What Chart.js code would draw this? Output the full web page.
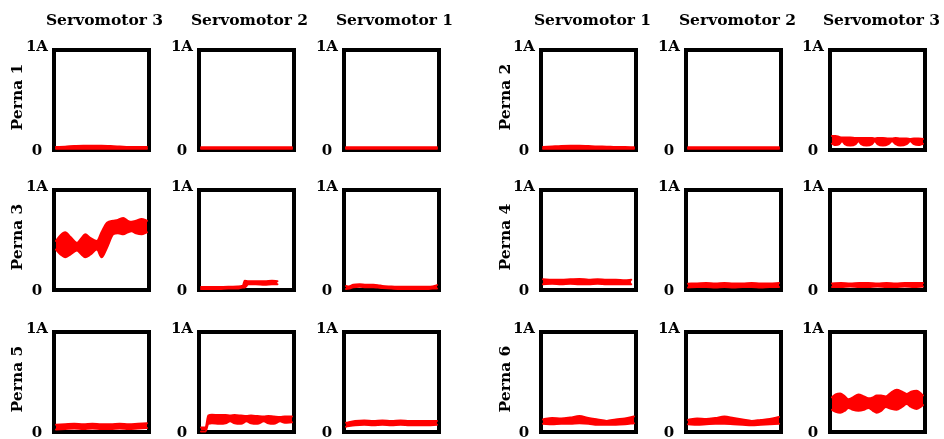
<!DOCTYPE html>
<html>
<head>
<meta charset="utf-8">
<script src="https://cdn.jsdelivr.net/npm/chart.js"></script>
<style>
  html, body { margin: 0; padding: 0; background: #fff; }
  #stage { position: relative; width: 944px; height: 439px; overflow: hidden; background: #fff; }
  #stage canvas { position: absolute; }
  .lbl {
    position: absolute; white-space: nowrap; line-height: 15px;
    font: bold 15.5px "DejaVu Serif", serif; color: #000;
  }
  .col { transform: translate(-50%, -50%); }
  .leg { transform: translate(-50%, -50%) rotate(-90deg); }
</style>
</head>
<body>
<div id="stage"></div>
<script>
// ---- labels ----
const motorsLeft  = ['Servomotor 3', 'Servomotor 2', 'Servomotor 1'];
const motorsRight = ['Servomotor 1', 'Servomotor 2', 'Servomotor 3'];
const legsLeft  = ['Perna 1', 'Perna 3', 'Perna 5'];
const legsRight = ['Perna 2', 'Perna 4', 'Perna 6'];
const yTickValues = [0, 1];
const yTickLabels = ['0', '1A'];

// ---- current envelopes: time (% of window), upper / lower bound (A) ----
const grid11 = [0, 10, 20, 30, 40, 50, 60, 70, 80, 90, 100];

// Perna 1
const p1s3_hi = [0.01, 0.014, 0.02, 0.024, 0.024, 0.024, 0.02, 0.016, 0.01, 0.01, 0.01];
const p1s3_lo = [-0.008, -0.008, -0.008, -0.008, -0.008, -0.008, -0.008, -0.008, -0.008, -0.008, -0.008];
const p1s2_hi = [0.008, 0.008, 0.008, 0.008, 0.008, 0.008, 0.008, 0.008, 0.008, 0.008, 0.008];
const p1s2_lo = [-0.008, -0.008, -0.008, -0.008, -0.008, -0.008, -0.008, -0.008, -0.008, -0.008, -0.008];
const p1s1_hi = [0.008, 0.008, 0.008, 0.008, 0.008, 0.008, 0.008, 0.008, 0.008, 0.008, 0.008];
const p1s1_lo = [-0.008, -0.008, -0.008, -0.008, -0.008, -0.008, -0.008, -0.008, -0.008, -0.008, -0.008];

// Perna 2
const p2s1_hi = [0.01, 0.016, 0.022, 0.024, 0.024, 0.02, 0.016, 0.014, 0.01, 0.01, 0.008];
const p2s1_lo = [-0.008, -0.008, -0.008, -0.008, -0.008, -0.008, -0.008, -0.008, -0.008, -0.008, -0.008];
const p2s2_hi = [0.008, 0.008, 0.008, 0.008, 0.008, 0.008, 0.008, 0.008, 0.008, 0.008, 0.008];
const p2s2_lo = [-0.008, -0.008, -0.008, -0.008, -0.008, -0.008, -0.008, -0.008, -0.008, -0.008, -0.008];
const p2s3_t  = [0, 4, 8, 11, 14, 20, 26, 29, 32, 38, 44, 47, 50, 56, 62, 66, 70, 75, 82, 86, 90, 95, 100];
const p2s3_hi = [0.125, 0.125, 0.115, 0.11, 0.11, 0.11, 0.105, 0.105, 0.105, 0.105, 0.105, 0.1, 0.105, 0.105, 0.1, 0.1, 0.105, 0.1, 0.1, 0.095, 0.1, 0.1, 0.095];
const p2s3_lo = [0.045, 0.03, 0.04, 0.07, 0.04, 0.025, 0.04, 0.07, 0.04, 0.025, 0.04, 0.07, 0.04, 0.025, 0.04, 0.07, 0.04, 0.025, 0.04, 0.07, 0.04, 0.03, 0.045];

// Perna 3
const p3s3_t  = [0, 5, 10, 16, 23, 28, 32, 38, 45, 50, 56, 63, 68, 74, 79, 83, 88, 94, 100];
const p3s3_hi = [0.49, 0.55, 0.58, 0.53, 0.47, 0.52, 0.56, 0.52, 0.49, 0.58, 0.68, 0.70, 0.71, 0.73, 0.70, 0.69, 0.70, 0.72, 0.70];
const p3s3_lo = [0.40, 0.35, 0.32, 0.35, 0.39, 0.35, 0.32, 0.35, 0.40, 0.32, 0.42, 0.56, 0.57, 0.56, 0.58, 0.59, 0.57, 0.56, 0.58];
const p3s2_t  = [0, 10, 20, 30, 40, 46, 48, 52, 60, 70, 78, 84];
const p3s2_hi = [0.01, 0.01, 0.01, 0.012, 0.016, 0.025, 0.075, 0.07, 0.07, 0.07, 0.075, 0.07];
const p3s2_lo = [-0.01, -0.01, -0.01, -0.006, -0.006, 0.004, 0.004, 0.04, 0.04, 0.035, 0.04, 0.04];
const p3s1_t  = [0, 3, 8, 15, 22, 30, 35, 40, 50, 60, 70, 80, 90, 95, 100];
const p3s1_hi = [0.02, 0.016, 0.035, 0.04, 0.035, 0.035, 0.03, 0.02, 0.016, 0.012, 0.012, 0.012, 0.012, 0.016, 0.03];
const p3s1_lo = [-0.01, -0.006, 0.008, 0.012, 0.008, 0.008, 0.004, 0.0, -0.006, -0.01, -0.01, -0.01, -0.01, -0.006, -0.006];

// Perna 4
const p4s1_t  = [0, 10, 20, 30, 40, 50, 60, 70, 80, 90, 97];
const p4s1_hi = [0.09, 0.085, 0.085, 0.09, 0.095, 0.085, 0.09, 0.085, 0.085, 0.08, 0.085];
const p4s1_lo = [0.04, 0.045, 0.04, 0.045, 0.04, 0.04, 0.045, 0.04, 0.04, 0.04, 0.04];
const p4s2_hi = [0.045, 0.048, 0.052, 0.048, 0.052, 0.048, 0.048, 0.052, 0.048, 0.048, 0.052];
const p4s2_lo = [0.005, 0.01, 0.01, 0.005, 0.01, 0.005, 0.01, 0.01, 0.005, 0.01, 0.01];
const p4s3_hi = [0.048, 0.052, 0.048, 0.052, 0.052, 0.048, 0.052, 0.048, 0.052, 0.052, 0.052];
const p4s3_lo = [0.01, 0.01, 0.015, 0.01, 0.01, 0.015, 0.01, 0.01, 0.015, 0.01, 0.015];

// Perna 5
const p5s3_hi = [0.055, 0.06, 0.065, 0.06, 0.065, 0.06, 0.06, 0.065, 0.06, 0.065, 0.07];
const p5s3_lo = [0.005, 0.01, 0.015, 0.01, 0.015, 0.01, 0.01, 0.015, 0.01, 0.015, 0.02];
const p5s2_t  = [0, 5, 8, 12, 20, 27, 32, 37, 44, 50, 55, 62, 69, 74, 80, 87, 92, 100];
const p5s2_hi = [0.025, 0.025, 0.15, 0.16, 0.155, 0.155, 0.15, 0.155, 0.15, 0.145, 0.15, 0.145, 0.14, 0.145, 0.14, 0.135, 0.14, 0.14];
const p5s2_lo = [-0.015, -0.015, 0.065, 0.07, 0.065, 0.07, 0.09, 0.07, 0.065, 0.09, 0.07, 0.065, 0.09, 0.07, 0.065, 0.09, 0.075, 0.08];
const p5s1_hi = [0.075, 0.095, 0.1, 0.095, 0.1, 0.095, 0.1, 0.095, 0.095, 0.095, 0.095];
const p5s1_lo = [0.035, 0.05, 0.055, 0.05, 0.055, 0.05, 0.055, 0.05, 0.05, 0.05, 0.055];

// Perna 6
const p6s1_hi = [0.11, 0.125, 0.12, 0.13, 0.145, 0.125, 0.11, 0.095, 0.11, 0.12, 0.14];
const p6s1_lo = [0.065, 0.06, 0.065, 0.065, 0.07, 0.065, 0.055, 0.055, 0.055, 0.06, 0.07];
const p6s2_hi = [0.105, 0.12, 0.115, 0.125, 0.14, 0.125, 0.11, 0.095, 0.105, 0.115, 0.135];
const p6s2_lo = [0.06, 0.055, 0.06, 0.065, 0.065, 0.06, 0.055, 0.05, 0.055, 0.06, 0.065];
const p6s3_t  = [0, 4, 9, 14, 18, 23, 29, 35, 40, 45, 49, 54, 59, 65, 71, 77, 82, 87, 93, 100];
const p6s3_hi = [0.34, 0.37, 0.38, 0.35, 0.32, 0.34, 0.37, 0.35, 0.33, 0.34, 0.36, 0.36, 0.35, 0.39, 0.42, 0.40, 0.375, 0.40, 0.41, 0.36];
const p6s3_lo = [0.21, 0.19, 0.18, 0.20, 0.23, 0.21, 0.20, 0.21, 0.23, 0.20, 0.18, 0.20, 0.24, 0.22, 0.21, 0.24, 0.27, 0.24, 0.22, 0.26];

// panel grid: rows are leg pairs, columns follow the motor headers
const panelGrid = [
  [[grid11, p1s3_hi, p1s3_lo], [grid11, p1s2_hi, p1s2_lo], [grid11, p1s1_hi, p1s1_lo],
   [grid11, p2s1_hi, p2s1_lo], [grid11, p2s2_hi, p2s2_lo], [p2s3_t, p2s3_hi, p2s3_lo]],
  [[p3s3_t, p3s3_hi, p3s3_lo], [p3s2_t, p3s2_hi, p3s2_lo], [p3s1_t, p3s1_hi, p3s1_lo],
   [p4s1_t, p4s1_hi, p4s1_lo], [grid11, p4s2_hi, p4s2_lo], [grid11, p4s3_hi, p4s3_lo]],
  [[grid11, p5s3_hi, p5s3_lo], [p5s2_t, p5s2_hi, p5s2_lo], [grid11, p5s1_hi, p5s1_lo],
   [grid11, p6s1_hi, p6s1_lo], [grid11, p6s2_hi, p6s2_lo], [p6s3_t, p6s3_hi, p6s3_lo]]
];

// ---- layout ----
const boxLeft = [52, 197, 342, 539, 684, 828];
const boxTop = [48, 188, 330];
const boxW = 99, boxH = 104, frame = 4;
const axisW = 40, padTop = 30, padBottom = 20, padRight = 4;
const RED = 'rgb(255,0,0)';
const FONT = { family: 'DejaVu Serif', size: 15, weight: 'bold', lineHeight: 1 };

const stage = document.getElementById('stage');

function addLabel(text, x, y, cls) {
  const d = document.createElement('div');
  d.className = 'lbl ' + cls;
  d.textContent = text;
  d.style.left = x + 'px';
  d.style.top = y + 'px';
  stage.appendChild(d);
}

// black frame around each plotting area, drawn under the traces
const framePlugin = {
  id: 'panelFrame',
  beforeDatasetsDraw(chart) {
    const { ctx, chartArea: a } = chart;
    ctx.save();
    ctx.strokeStyle = '#000';
    ctx.lineWidth = frame;
    ctx.strokeRect(a.left - frame / 2, a.top - frame / 2,
                   a.right - a.left + frame, a.bottom - a.top + frame);
    ctx.restore();
  }
};

function toPoints(t, v) { return t.map((x, i) => ({ x: x, y: v[i] })); }

panelGrid.forEach((row, r) => {
  row.forEach((cell, c) => {
    const [t, hi, lo] = cell;
    const innerW = boxW - 2 * frame, innerH = boxH - 2 * frame;
    const cv = document.createElement('canvas');
    cv.width = axisW + innerW + padRight;
    cv.height = padTop + innerH + padBottom;
    cv.style.left = (boxLeft[c] + frame - axisW) + 'px';
    cv.style.top = (boxTop[r] + frame - padTop) + 'px';
    stage.appendChild(cv);

    const band = {
      borderColor: RED, backgroundColor: RED, borderWidth: 2,
      pointRadius: 0, cubicInterpolationMode: 'monotone',
      borderJoinStyle: 'round', borderCapStyle: 'round', clip: false
    };

    new Chart(cv, {
      type: 'line',
      data: {
        datasets: [
          Object.assign({ data: toPoints(t, hi), fill: '+1' }, band),
          Object.assign({ data: toPoints(t, lo), fill: false }, band)
        ]
      },
      options: {
        responsive: false,
        animation: false,
        devicePixelRatio: 1,
        layout: { padding: { top: padTop, bottom: padBottom, left: 0, right: padRight } },
        plugins: { legend: { display: false }, tooltip: { enabled: false }, title: { display: false } },
        scales: {
          x: { type: 'linear', min: 0, max: 100, display: false },
          y: {
            type: 'linear', min: 0, max: 1,
            afterBuildTicks: s => { s.ticks = yTickValues.map(v => ({ value: v })); },
            afterFit: s => { s.width = axisW; },
            grid: { display: false, drawTicks: false },
            border: { display: false },
            ticks: {
              padding: 8, crossAlign: 'center', color: '#000', font: FONT, labelOffset: 3,
              callback: v => (v === 1 ? [yTickLabels[1], ''] : yTickLabels[0])
            }
          }
        }
      },
      plugins: [framePlugin]
    });
  });
});

// column headers and leg labels
motorsLeft.forEach((m, i) => addLabel(m, boxLeft[i] + boxW / 2 + 3, 18.5, 'col'));
motorsRight.forEach((m, i) => addLabel(m, boxLeft[i + 3] + boxW / 2 + 4, 18.5, 'col'));
legsLeft.forEach((l, r) => addLabel(l, 15.5, boxTop[r] + boxH / 2 - 3, 'leg'));
legsRight.forEach((l, r) => addLabel(l, 503.5, boxTop[r] + boxH / 2 - 3, 'leg'));
</script>
</body>
</html>
